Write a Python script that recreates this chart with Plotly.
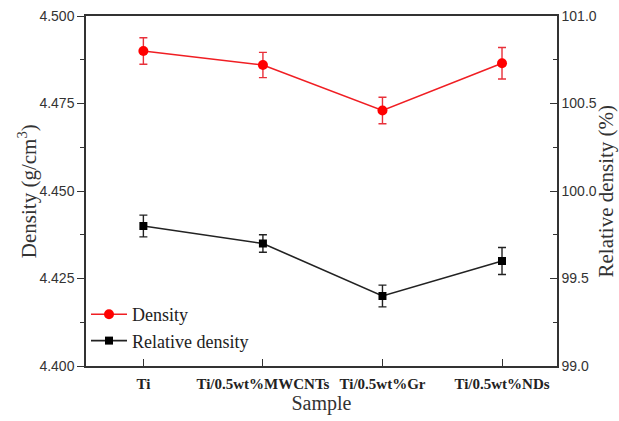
import plotly.graph_objects as go

samples = ["Ti", "Ti/0.5wt%MWCNTs", "Ti/0.5wt%Gr", "Ti/0.5wt%NDs"]
density = [4.490, 4.486, 4.473, 4.4865]
density_err = [0.0038, 0.0036, 0.0038, 0.0045]
rel_density = [99.8, 99.7, 99.4, 99.6]
rel_density_err = [0.062, 0.05, 0.062, 0.077]

x = list(range(len(samples)))
serif = "Liberation Serif, Times New Roman, serif"
sans = "Liberation Sans, Arial, sans-serif"

fig = go.Figure()
fig.add_trace(go.Scatter(
    x=x, y=density, name="Density", mode="lines+markers",
    line=dict(color="#f01e23", width=1.6),
    marker=dict(symbol="circle", size=10, color="#ff0000"),
    error_y=dict(type="data", array=density_err, visible=True, color="#e8303a", thickness=1.4, width=4),
    yaxis="y"))
fig.add_trace(go.Scatter(
    x=x, y=rel_density, name="Relative density", mode="lines+markers",
    line=dict(color="#222222", width=1.6),
    marker=dict(symbol="square", size=8, color="#000000"),
    error_y=dict(type="data", array=rel_density_err, visible=True, color="#222222", thickness=1.4, width=4),
    yaxis="y2"))

fig.update_layout(
    width=619, height=421,
    margin=dict(l=86, r=62, t=16, b=55, autoexpand=False),
    paper_bgcolor="white", plot_bgcolor="white",
    showlegend=True,
    legend=dict(x=0.0, y=0.02, xanchor="left", yanchor="bottom",
                font=dict(family=serif, size=18, color="#222"),
                bgcolor="rgba(0,0,0,0)", tracegroupgap=0, itemwidth=36),
    xaxis=dict(
        range=[-0.48, 3.46], tickmode="array", tickvals=x,
        ticktext=["<b>%s</b>" % s for s in samples],
        tickfont=dict(family=serif, size=15, color="#222"),
        ticks="inside", ticklen=7, tickcolor="#333", tickwidth=1,
        ticklabelstandoff=3,
        showline=True, linecolor="#333", linewidth=1.5, mirror=True,
        showgrid=False, zeroline=False, automargin=False,
        title=dict(text="Sample", font=dict(family=serif, size=20, color="#333"), standoff=5)),
    yaxis=dict(
        range=[4.400, 4.500], tickmode="linear", tick0=4.4, dtick=0.025, tickformat=".3f",
        tickfont=dict(family=sans, size=14, color="#333"),
        ticks="outside", ticklen=7, tickcolor="#333", tickwidth=1,
        minor=dict(dtick=0.0125, ticks="outside", ticklen=4, tickcolor="#333", tickwidth=1, showgrid=False),
        showline=True, linecolor="#333", linewidth=1.5,
        showgrid=False, zeroline=False, automargin=False),
    yaxis2=dict(
        range=[99.0, 101.0], tickmode="linear", tick0=99.0, dtick=0.5, tickformat=".1f",
        overlaying="y", side="right",
        tickfont=dict(family=sans, size=14, color="#333"),
        ticks="inside", ticklen=7, tickcolor="#333", tickwidth=1,
        minor=dict(dtick=0.25, ticks="inside", ticklen=4, tickcolor="#333", tickwidth=1, showgrid=False),
        showline=True, linecolor="#333", linewidth=1.5,
        showgrid=False, zeroline=False, automargin=False),
    annotations=[
        dict(text="Density (g/cm<sup>3</sup>)", xref="paper", yref="paper", x=-0.125, y=0.5,
             xanchor="center", yanchor="middle", textangle=-90, showarrow=False,
             font=dict(family=serif, size=21, color="#333")),
        dict(text="Relative density (%)", xref="paper", yref="paper", x=1.103, y=0.5,
             xanchor="center", yanchor="middle", textangle=-90, showarrow=False,
             font=dict(family=serif, size=21, color="#333")),
    ],
)

fig.write_html("out.html", config={"displayModeBar": False},
               post_script="document.body.style.margin='0';")
